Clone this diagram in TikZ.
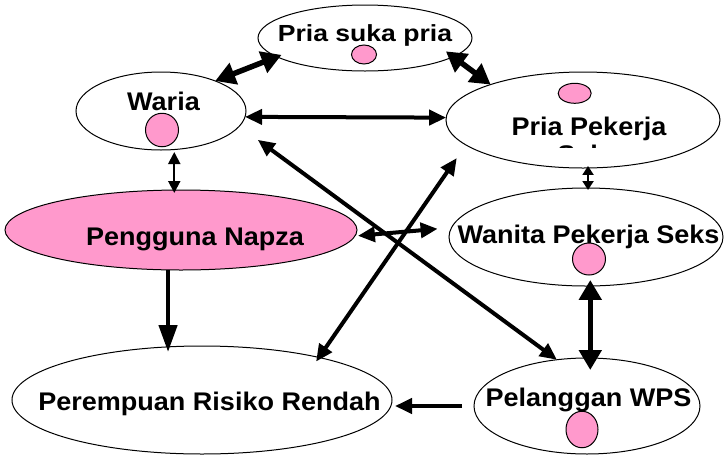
\documentclass[tikz,border=0pt]{standalone}
\usepackage{fontspec}
\setmainfont{Liberation Sans}
\newfontfamily\lblfont{Liberation Sans}[FakeStretch=1.06]
\newfontfamily\pspfont{Liberation Sans}[FakeStretch=1.14]
\usetikzlibrary{arrows.meta,shapes.geometric,calc}
\definecolor{pinkfill}{HTML}{FF99CC}
\tikzset{
  oval/.style={ellipse, draw, line width=1pt, fill=white, inner sep=0pt, outer sep=0pt},
  dot/.style={ellipse, draw, line width=1pt, fill=pinkfill, inner sep=0pt, outer sep=0pt},
  lbl/.style={anchor=base, inner sep=0pt, font=\lblfont\bfseries\fontsize{25.5}{28}\selectfont},
  bigarrow/.style={line width=5.5pt, >={Triangle[length=20pt,width=22pt]}},
  napzaarrow/.style={line width=4.5pt, >={Triangle[length=27pt,width=18pt]}},
  midarrow/.style={line width=4pt, >={Triangle[length=17pt,width=15pt]}},
  smallarrow/.style={line width=2pt, >={Triangle[length=12pt,width=12pt]}},
  tinyarrow/.style={line width=2pt, >={Triangle[length=9pt,width=11pt]}}
}
\begin{document}
\begin{tikzpicture}[x=1pt,y=-1pt]
\useasboundingbox (0,0) rectangle (724,456);
% ovals
\node[oval, minimum width=214pt, minimum height=66pt] (psp) at (365,38) {};
\node[oval, minimum width=170pt, minimum height=78pt] (waria) at (161,111) {};
\node[oval, minimum width=274pt, minimum height=96pt] (pp) at (583,120) {};
\node[oval, minimum width=274pt, minimum height=98pt] (wps) at (586,237) {};
\node[oval, fill=pinkfill, minimum width=352pt, minimum height=80pt] (napza) at (181,230) {};
\node[oval, minimum width=380pt, minimum height=108pt] (perem) at (202,400) {};
\node[oval, minimum width=226pt, minimum height=96pt] (pel) at (587,406) {};
% labels
\node[lbl, font=\pspfont\bfseries\fontsize{23.3}{26}\selectfont] (tpsp) at (365,41.5) {Pria suka pria};
\node[lbl] (twaria) at (163.5,110) {Waria};
\node[lbl] (tpp) at (589,135) {Pria Pekerja};
\begin{scope}
  \clip (530,138) rectangle (650,147.5);
  \node[lbl] (tseks) at (589,163) {Seks};
\end{scope}
\node[lbl] (twps) at (588.5,243) {Wanita Pekerja Seks};
\node[lbl] (tnapza) at (195,245.5) {Pengguna Napza};
\node[lbl] (tperem) at (209.5,410.5) {Perempuan Risiko Rendah};
\node[lbl] (tpel) at (588.5,406.5) {Pelanggan WPS};
% pink dots
\node[dot, minimum width=25pt, minimum height=19pt] (dpsp) at (364,54.5) {};
\node[dot, minimum width=33pt, minimum height=33.5pt] (dwaria) at (162,130) {};
\node[dot, minimum width=33pt, minimum height=20pt] (dpp) at (574.7,93.3) {};
\node[dot, minimum width=33pt, minimum height=32pt] (dwps) at (589,259) {};
\node[dot, minimum width=32pt, minimum height=36.5pt] (dpel) at (582,429.5) {};
% connectors
\draw[bigarrow,<->, shorten >=-5pt] (waria.29) -- (psp.192);
\draw[bigarrow,<->, shorten <=-9pt] (psp.-12) -- (pp.159.4);
\draw[midarrow,<->] (waria.-4.6) -- (pp.179.2);
\draw[smallarrow,<->, shorten <=2.5pt, shorten >=-3pt] (waria.-71.3) -- (waria.-71.3 |- napza.north);
\draw[tinyarrow,<->, shorten <=-2pt, shorten >=-2pt] (pp.-84) -- (pp.-84 |- wps.north);
\draw[midarrow,<->, shorten <=3pt, shorten >=14pt] (napza.-2) -- (wps.176);
\draw[midarrow,<->, shorten <=23pt] (waria.-11) -- (pel.123.4);
\draw[midarrow,<->, shorten <=-5pt, shorten >=16pt] (perem.20) -- (pp.192);
\draw[napzaarrow,->, shorten >=-6pt] (napza.-108) -- (napza.-108 |- perem.north);
\draw[bigarrow,<->, shorten <=-6pt, shorten >=-12pt] (wps.-85) -- (wps.-85 |- pel.north);
\draw[midarrow,->, shorten <=12pt, shorten >=3pt] (pel.west) -- (perem.east |- pel.west);
\end{tikzpicture}
\end{document}
